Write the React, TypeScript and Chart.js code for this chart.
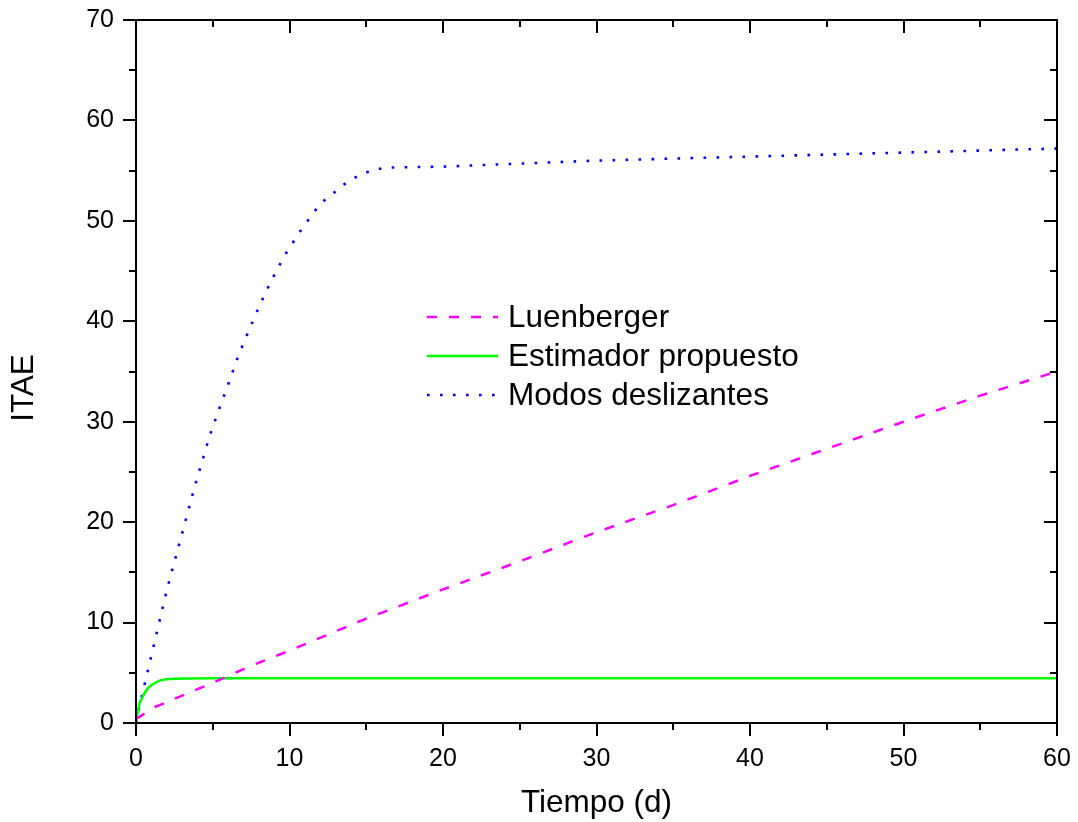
import React, { useEffect, useRef } from "react";
import { Chart, registerables } from "chart.js";

Chart.register(...registerables);

// ---- Data ----
const luenbergerT = [0, 1.25, 2.5, 5, 7.5, 10, 15, 20, 25, 30, 35, 40, 45, 50, 55, 60];
const luenbergerV = [0.4, 1.6, 2.4, 4.0, 5.7, 7.2, 10.4, 13.3, 16.1, 19.0, 21.7, 24.6, 27.3, 30.0, 32.6, 35.0];

const estimadorT = [0, 0.1, 0.25, 0.5, 0.75, 1, 1.5, 2, 3, 5, 60];
const estimadorV = [0.3, 0.9, 2.0, 2.8, 3.4, 3.75, 4.2, 4.35, 4.42, 4.45, 4.45];

const modosT = [0, 0.2, 0.4, 0.6, 1, 1.4, 2, 2.9, 3.8, 4.8, 5.4, 6.0, 6.6, 7.3, 8.0, 8.8, 9.7, 10.8, 12.0, 13.7, 14.5, 15.3, 16.3, 20, 30, 40, 50, 60];
const modosV = [0, 1.5, 2.8, 4.1, 6.7, 9.3, 13.2, 18.3, 23.4, 28.6, 31.2, 33.7, 36.3, 38.9, 41.4, 44.0, 46.6, 49.2, 51.7, 53.8, 54.5, 55.0, 55.3, 55.4, 56.0, 56.4, 56.8, 57.2];

const seriesNames = ["Luenberger", "Estimador propuesto", "Modos deslizantes"];
const xTitle = "Tiempo (d)";
const yTitle = "ITAE";
const xMin = 0, xMax = 60, xStep = 10;
const yMin = 0, yMax = 70, yStep = 10;

const FONT = "'Liberation Sans', Arial, Helvetica, sans-serif";
const TITLE_SIZE = 31.5;

const toPoints = (t: number[], v: number[]) => t.map((x, i) => ({ x, y: v[i] }));

const frameAndLegend = {
  id: "frameAndLegend",
  afterDraw(chart: any) {
    const { ctx, chartArea: a, scales } = chart;
    const xs = scales.x;
    const ys = scales.y;
    ctx.save();
    ctx.strokeStyle = "#000";
    ctx.lineWidth = 2;
    ctx.lineCap = "butt";
    ctx.setLineDash([]);
    ctx.strokeRect(a.left, a.top, a.right - a.left, a.bottom - a.top);

    const major = 13;
    const minor = 7;
    const xMaj: number[] = xs.ticks.map((t: any) => t.value);
    const yMaj: number[] = ys.ticks.map((t: any) => t.value);
    const mids = (arr: number[]) => arr.slice(1).map((v, i) => (v + arr[i]) / 2);

    const line = (x1: number, y1: number, x2: number, y2: number) => {
      ctx.beginPath();
      ctx.moveTo(x1, y1);
      ctx.lineTo(x2, y2);
      ctx.stroke();
    };

    const drawX = (vals: number[], len: number) => {
      vals.forEach((v) => {
        const px = Math.round(xs.getPixelForValue(v));
        line(px, a.bottom, px, a.bottom + len); // bottom: outward
        line(px, a.top, px, a.top + len); // top: inward
      });
    };
    const drawY = (vals: number[], len: number) => {
      vals.forEach((v) => {
        const py = Math.round(ys.getPixelForValue(v));
        line(a.left - len, py, a.left, py); // left: outward
        line(a.right - len, py, a.right, py); // right: inward
      });
    };
    drawX(xMaj, major);
    drawX(mids(xMaj), minor);
    drawY(yMaj, major);
    drawY(mids(yMaj), minor);

    // Y axis title
    ctx.save();
    ctx.fillStyle = "#000";
    ctx.font = `${TITLE_SIZE}px ${FONT}`;
    ctx.textAlign = "center";
    ctx.textBaseline = "middle";
    ctx.translate(24, 388);
    ctx.rotate(-Math.PI / 2);
    ctx.fillText(yTitle, 0, 0);
    ctx.restore();

    // Legend
    const rows = [317, 356, 395];
    chart.data.datasets.forEach((ds: any, i: number) => {
      const y = rows[i];
      ctx.save();
      ctx.strokeStyle = ds.borderColor;
      ctx.lineWidth = ds.borderWidth;
      ctx.setLineDash(ds.borderDash || []);
      line(427, y, 498, y);
      ctx.restore();
      ctx.fillStyle = "#000";
      ctx.font = `${TITLE_SIZE}px ${FONT}`;
      ctx.textBaseline = "middle";
      ctx.textAlign = "left";
      ctx.fillText(ds.label, 508, y + 1);
    });
    ctx.restore();
  },
};

const noPad = (s: any) => {
  s.paddingTop = 0;
  s.paddingBottom = 0;
  s.paddingLeft = 0;
  s.paddingRight = 0;
};

export default function App() {
  const ref = useRef<HTMLCanvasElement | null>(null);

  useEffect(() => {
    if (!ref.current) return;
    const chart = new Chart(ref.current, {
      type: "line",
      data: {
        datasets: [
          {
            label: seriesNames[0],
            data: toPoints(luenbergerT, luenbergerV),
            borderColor: "#ff00ff",
            borderWidth: 2.5,
            borderDash: [10, 12],
            pointRadius: 0,
            fill: false,
            tension: 0,
          },
          {
            label: seriesNames[1],
            data: toPoints(estimadorT, estimadorV),
            borderColor: "#00ff00",
            borderWidth: 2.5,
            pointRadius: 0,
            fill: false,
            tension: 0.3,
          },
          {
            label: seriesNames[2],
            data: toPoints(modosT, modosV),
            borderColor: "#0000ff",
            borderWidth: 2.6,
            borderDash: [2.6, 10.4],
            pointRadius: 0,
            fill: false,
            tension: 0,
          },
        ],
      },
      options: {
        animation: false,
        responsive: true,
        maintainAspectRatio: false,
        devicePixelRatio: 1,
        layout: { padding: { top: 20, right: 21, bottom: 0, left: 0 } },
        plugins: {
          legend: { display: false },
          tooltip: { enabled: false },
        },
        scales: {
          x: {
            type: "linear",
            min: xMin,
            max: xMax,
            grid: { display: false, drawTicks: false },
            border: { display: false },
            ticks: {
              stepSize: xStep,
              color: "#000",
              padding: 21,
              maxRotation: 0,
              font: { family: FONT, size: 25 },
            },
            title: {
              display: true,
              text: xTitle,
              color: "#000",
              font: { family: FONT, size: TITLE_SIZE },
              padding: { top: 0, bottom: 0 },
            },
            afterFit: (s: any) => {
              s.height = 99;
              noPad(s);
            },
          },
          y: {
            type: "linear",
            min: yMin,
            max: yMax,
            grid: { display: false, drawTicks: false },
            border: { display: false },
            ticks: {
              stepSize: yStep,
              color: "#000",
              padding: 22,
              font: { family: FONT, size: 25 },
            },
            title: { display: false },
            afterFit: (s: any) => {
              s.width = 136;
              noPad(s);
            },
          },
        },
      },
      plugins: [frameAndLegend],
    });
    return () => chart.destroy();
  }, []);

  return (
    <div style={{ position: "fixed", left: 0, top: 0, width: 1078, height: 822, background: "#fff" }}>
      <canvas ref={ref} />
    </div>
  );
}
